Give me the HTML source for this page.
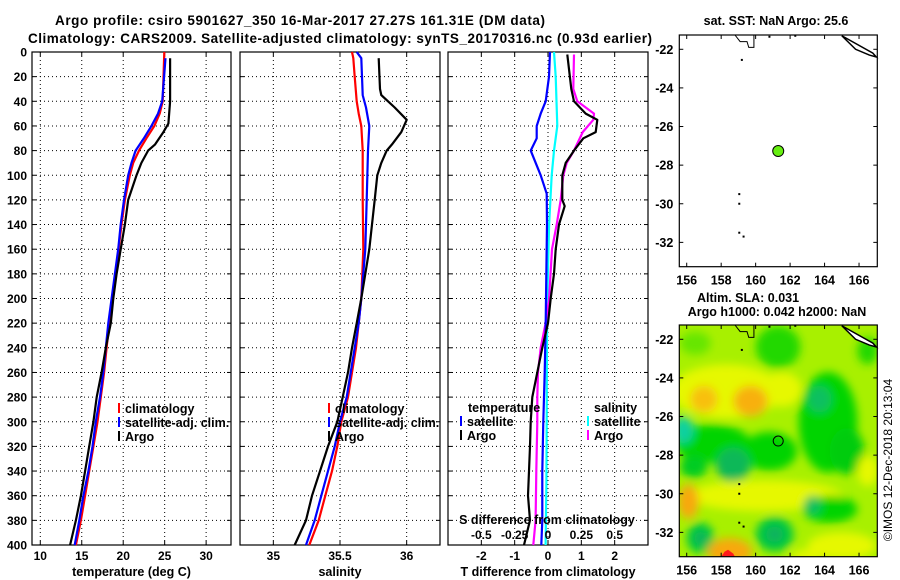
<!DOCTYPE html>
<html><head><meta charset="utf-8">
<style>
html,body{margin:0;padding:0;background:#fff;}
svg{display:block;font-family:"Liberation Sans",sans-serif;font-weight:bold;}
</style></head>
<body>
<svg id="fig" width="900" height="580" viewBox="0 0 900 580" xmlns="http://www.w3.org/2000/svg">
<defs>
<filter id="blur" x="-50%" y="-50%" width="200%" height="200%"><feGaussianBlur stdDeviation="4.5"/></filter>
<clipPath id="mapclip"><rect x="679.3" y="325" width="198" height="231.7"/></clipPath>
</defs>
<text x="300" y="25" font-size="13.5" text-anchor="middle" textLength="490">Argo profile: csiro 5901627_350 16-Mar-2017 27.27S 161.31E (DM data)</text>
<text x="340" y="43" font-size="13.5" text-anchor="middle" textLength="624">Climatology: CARS2009. Satellite-adjusted climatology: synTS_20170316.nc (0.93d earlier)</text>
<g id="plots"></g>
</svg>
<script>
// ---------- data ----------
const depthTicks = [0,20,40,60,80,100,120,140,160,180,200,220,240,260,280,300,320,340,360,380,400];
const tempTicks = [10,15,20,25,30];
const salTicks = [35,35.5,36];
const salTickLabels = ["35","35.5","36"];
const dTTicks = [-2,-1,0,1,2];
const dSTicks = [-0.5,-0.25,0,0.25,0.5];
const dSTickLabels = ["-0.5","-0.25","0","0.25","0.5"];

const tClimDepth = [0,40,50,60,70,80,90,100,120,140,160,180,200,220,240,260,280,300,320,340,360,380,400];
const tClim = [24.96,24.76,24.4,23.75,22.8,21.9,21.2,20.8,20.2,19.8,19.45,19.1,18.7,18.33,18.0,17.7,17.3,16.9,16.4,15.9,15.4,14.9,14.3];
const tSatDepth = [5,40,50,60,70,80,90,100,120,140,160,180,200,220,240,260,280,300,320,340,360,380,400];
const tSat = [25.1,24.7,24.2,23.4,22.5,21.5,21.0,20.6,20.1,19.7,19.4,19.0,18.6,18.2,17.9,17.6,17.2,16.7,16.3,15.8,15.2,14.7,14.15];
const tArgoDepth = [5,40,58,65,75,80,90,100,120,140,160,180,200,220,240,260,280,300,320,340,360,380,400];
const tArgo = [25.65,25.65,25.45,24.85,23.85,23.0,22.2,21.6,20.6,20.2,19.7,19.2,18.8,18.5,17.9,17.4,16.8,16.4,15.9,15.4,14.9,14.3,13.6];

const sClimDepth = [0,5,20,40,50,60,80,120,160,200,220,240,260,280,300,320,340,360,380,400];
const sClim = [35.59,35.60,35.61,35.625,35.64,35.66,35.67,35.67,35.675,35.66,35.64,35.62,35.59,35.56,35.51,35.48,35.44,35.39,35.34,35.27];
const sSatDepth = [0,5,20,35,45,60,80,120,160,200,220,240,260,280,300,320,340,360,380,400];
const sSat = [35.625,35.66,35.665,35.67,35.695,35.72,35.71,35.7,35.69,35.66,35.64,35.61,35.58,35.55,35.5,35.46,35.41,35.36,35.31,35.245];
const sArgoDepth = [5,30,35,45,55,65,75,80,90,100,120,140,160,180,200,220,240,260,280,300,320,340,360,380,400];
const sArgo = [35.79,35.80,35.81,35.91,36.0,35.96,35.89,35.85,35.81,35.78,35.76,35.74,35.72,35.69,35.66,35.625,35.59,35.56,35.52,35.48,35.41,35.35,35.29,35.245,35.16];

const dTSatDepth = [0,20,40,50,60,70,80,90,100,115,140,200,220,260,300,340,380,400];
const dTSat = [0.06,0.03,-0.07,-0.22,-0.34,-0.34,-0.52,-0.37,-0.22,-0.04,-0.03,-0.06,-0.07,-0.1,-0.14,-0.17,-0.17,-0.2];
const dTArgoDepth = [2,30,40,50,55,65,70,80,90,100,120,125,140,160,180,200,220,240,260,280,300,320,340,360,380,400];
const dTArgo = [0.58,0.7,0.78,1.13,1.48,1.43,1.06,0.78,0.53,0.43,0.43,0.5,0.33,0.23,0.18,0.08,0,-0.17,-0.32,-0.47,-0.52,-0.54,-0.57,-0.6,-0.54,-0.72];
const dSSatDepth = [0,20,60,80,100,140,200,240,300,350,400];
const dSSat = [0.045,0.058,0.07,0.045,0.028,0.008,-0.005,-0.008,-0.01,-0.012,-0.018];
const dSArgoDepth = [2,30,40,50,55,65,80,90,100,120,140,160,200,220,240,260,280,300,340,380,400];
const dSArgo = [0.195,0.19,0.22,0.345,0.34,0.26,0.195,0.14,0.115,0.095,0.065,0.03,0.008,-0.018,-0.055,-0.075,-0.08,-0.08,-0.088,-0.093,-0.11];

const lonTicks = [156,158,160,162,164,166];
const latTicks = [-22,-24,-26,-28,-30,-32];
const argoLon = [161.31];
const argoLat = [-27.27];

// ---------- helpers ----------
const NS = "http://www.w3.org/2000/svg";
const root = document.getElementById('plots');
function mk(tag, attrs, parent){
  const e = document.createElementNS(NS, tag);
  for (const k in attrs) e.setAttribute(k, attrs[k]);
  (parent||root).appendChild(e);
  return e;
}
const Y0 = 52, Y1 = 545;
function yDepth(d){ return Y0 + d/400*(Y1-Y0); }
function linX(x0,x1,v0,v1){ return v => x0 + (v-v0)/(v1-v0)*(x1-x0); }

function panel(name, x0, x1, xfn, ticks, labels, xlabel, showY){
  const g = mk('g', {});
  
  
  depthTicks.forEach((d,i)=>{
    if (i===0||i===depthTicks.length-1) return;
    const l = mk('line',{x1:x0,x2:x1,y1:yDepth(d),y2:yDepth(d),stroke:'#000','stroke-width':1,'stroke-dasharray':'1,3'},g);
    
    
  });
  ticks.forEach(t=>{
    const x = xfn(t);
    const l = mk('line',{x1:x,x2:x,y1:Y0,y2:Y1,stroke:'#000','stroke-width':1,'stroke-dasharray':'1,3'},g);
    
    
    mk('line',{x1:x,x2:x,y1:Y0,y2:Y0+4,stroke:'#000'},g);
    mk('line',{x1:x,x2:x,y1:Y1,y2:Y1-4,stroke:'#000'},g);
  });
  const fr = mk('rect',{x:x0,y:Y0,width:x1-x0,height:Y1-Y0,fill:'none',stroke:'#000','stroke-width':1.2},g);
  
  
  ticks.forEach((t,i)=>{
    const tx = mk('text',{x:xfn(t),y:560,'font-size':12,'text-anchor':'middle'},g);
    tx.textContent = labels[i];
    
    
  });
  const xl = mk('text',{x:(x0+x1)/2,y:576,'font-size':12.5,'text-anchor':'middle'},g);
  xl.textContent = xlabel;
  
  
  if (showY){
    depthTicks.forEach(d=>{
      const tx = mk('text',{x:27,y:yDepth(d)+4.5,'font-size':12,'text-anchor':'end'},g);
      tx.textContent = d;
      
      
    });
  }
  depthTicks.forEach(d=>{
    mk('line',{x1:x0,x2:x0+4,y1:yDepth(d),y2:yDepth(d),stroke:'#000'},g);
    mk('line',{x1:x1,x2:x1-4,y1:yDepth(d),y2:yDepth(d),stroke:'#000'},g);
  });
  return g;
}
function series(g, name, depths, vals, xfn, color){
  const pts = depths.map((d,i)=> xfn(vals[i]).toFixed(1)+','+yDepth(d).toFixed(1)).join(' ');
  const p = mk('polyline',{points:pts,fill:'none',stroke:color,'stroke-width':2.2,'stroke-linejoin':'round'},g);
  
  
}
function legendEntry(g, name, x, y, color, label){
  const e = mk('g',{},g);
  
  
  mk('line',{x1:x,x2:x,y1:y-10,y2:y,stroke:color,'stroke-width':2},e);
  const t = mk('text',{x:x+6,y:y,'font-size':12.5},e);
  t.textContent = label;
}

// ---------- temperature panel ----------
const xT = linX(32,231,9,33);
const g1 = panel('temperature-panel',32,231,xT,tempTicks,tempTicks.map(String),'temperature (deg C)',true);
series(g1,'temp-climatology-line',tClimDepth,tClim,xT,'#ff0000');
series(g1,'temp-satellite-line',tSatDepth,tSat,xT,'#0000ff');
series(g1,'temp-argo-line',tArgoDepth,tArgo,xT,'#000000');
legendEntry(g1,'legend-climatology',119,413,'#ff0000','climatology');
legendEntry(g1,'legend-satellite-adj',119,427,'#0000ff','satellite-adj. clim.');
legendEntry(g1,'legend-argo',119,441,'#000000','Argo');

// ---------- salinity panel ----------
const xS = linX(240,440,34.75,36.25);
const g2 = panel('salinity-panel',240,440,xS,salTicks,salTickLabels,'salinity',false);
series(g2,'sal-climatology-line',sClimDepth,sClim,xS,'#ff0000');
series(g2,'sal-satellite-line',sSatDepth,sSat,xS,'#0000ff');
series(g2,'sal-argo-line',sArgoDepth,sArgo,xS,'#000000');
legendEntry(g2,'legend-climatology',329,413,'#ff0000','climatology');
legendEntry(g2,'legend-satellite-adj',329,427,'#0000ff','satellite-adj. clim.');
legendEntry(g2,'legend-argo',329,441,'#000000','Argo');

// ---------- difference panel ----------
const xD = linX(448,648,-3,3);
const xDS = linX(448,648,-0.75,0.75);
const g3 = panel('difference-panel',448,648,xD,dTTicks,dTTicks.map(String),'T difference from climatology',false);
series(g3,'dS-satellite-line',dSSatDepth,dSSat,xDS,'#00ffff');
series(g3,'dS-argo-line',dSArgoDepth,dSArgo,xDS,'#ff00ff');
series(g3,'dT-satellite-line',dTSatDepth,dTSat,xD,'#0000ff');
series(g3,'dT-argo-line',dTArgoDepth,dTArgo,xD,'#000000');
{
  const t = mk('text',{x:468,y:412,'font-size':12.5},g3); t.textContent='temperature';
   
  const s = mk('text',{x:594,y:412,'font-size':12.5},g3); s.textContent='salinity';
   
}
legendEntry(g3,'legend-dT-satellite',461,426,'#0000ff','satellite');
legendEntry(g3,'legend-dT-argo',461,440,'#000000','Argo');
legendEntry(g3,'legend-dS-satellite',588,426,'#00ffff','satellite');
legendEntry(g3,'legend-dS-argo',588,440,'#ff00ff','Argo');
{
  const t = mk('text',{x:547,y:524,'font-size':12.5,'text-anchor':'middle'},g3); t.textContent='S difference from climatology';
   
  dSTicks.forEach((v,i)=>{
    const tx = mk('text',{x:xDS(v),y:539,'font-size':12,'text-anchor':'middle'},g3);
    tx.textContent = dSTickLabels[i];
    
    
  });
}

// ---------- maps ----------
const MX0=679.3, MX1=877.3;
const xLon = linX(MX0,MX1,155.57,167.06);
function mapAxes(g, top, bottom){
  const yLat = linX(top,bottom,-21.26,-33.26);
  lonTicks.forEach(l=>{
    mk('line',{x1:xLon(l),x2:xLon(l),y1:top,y2:top+4,stroke:'#000'},g);
    mk('line',{x1:xLon(l),x2:xLon(l),y1:bottom,y2:bottom-4,stroke:'#000'},g);
    const t = mk('text',{x:xLon(l),y:bottom+18,'font-size':12.5,'text-anchor':'middle'},g);
    t.textContent = l;
    
    
  });
  latTicks.forEach(l=>{
    mk('line',{x1:MX0,x2:MX0+4,y1:yLat(l),y2:yLat(l),stroke:'#000'},g);
    mk('line',{x1:MX1,x2:MX1-4,y1:yLat(l),y2:yLat(l),stroke:'#000'},g);
    const t = mk('text',{x:MX0-6,y:yLat(l)+4.5,'font-size':12.5,'text-anchor':'end'},g);
    t.textContent = l;
    
    
  });
  const r = mk('rect',{x:MX0,y:top,width:MX1-MX0,height:bottom-top,fill:'none',stroke:'#000','stroke-width':1.2},g);
  
  
  return yLat;
}
function coast(g, yLat){
  const p1 = mk('path',{d:`M${xLon(165)} ${yLat(-21.3)} L${xLon(166.8)} ${yLat(-22.2)} L${xLon(167)} ${yLat(-22.4)} L${xLon(166.6)} ${yLat(-22.3)} L${xLon(165.8)} ${yLat(-22)} Z`,fill:'#fff',stroke:'#000','stroke-width':1.5},g);
   
  const p2 = mk('path',{d:`M${xLon(158.8)} ${yLat(-21.26)} L${xLon(159.1)} ${yLat(-21.6)} L${xLon(159.5)} ${yLat(-21.6)} L${xLon(159.6)} ${yLat(-21.9)} L${xLon(159.9)} ${yLat(-21.9)} L${xLon(159.9)} ${yLat(-21.26)}`,fill:'none',stroke:'#000','stroke-width':1},g);
   
  [[159.2,-22.55],[159.05,-29.5],[159.05,-30.0],[159.05,-31.5],[159.3,-31.7],[162.3,-21.3],[160.8,-21.35]].forEach(p=>{
    mk('rect',{x:xLon(p[0])-1,y:yLat(p[1])-1,width:2,height:2,fill:'#000'},g);
  });
}
// SST map
const gm1 = mk('g',{});


const yLat1 = mapAxes(gm1,35,266.7);
coast(gm1,yLat1);
{
  const c = mk('circle',{cx:xLon(argoLon[0]),cy:yLat1(argoLat[0]),r:5.5,fill:'#66ee11',stroke:'#000','stroke-width':1},gm1);
   
  const t = mk('text',{x:776,y:25,'font-size':12.5,'text-anchor':'middle'},gm1); t.textContent='sat. SST: NaN Argo: 25.6';
   
}
// SLA map
const gm2 = mk('g',{});


const yLat2 = linX(325,556.7,-21.26,-33.26);
const field = mk('g',{'clip-path':'url(#mapclip)'},gm2);


mk('rect',{x:MX0,y:325,width:MX1-MX0,height:231.7,fill:'#a8f000'},field);
const fb = mk('g',{filter:'url(#blur)'},field);
const blobs = [
 [158.3,-24.7,3.2,1.4,'#e6f800'],[161.5,-24.6,1.2,0.9,'#e6f800'],[157,-25.1,0.8,0.7,'#f8c010'],[159.7,-25.2,1.0,0.8,'#f8b010'],
 [156.5,-22.2,0.9,0.6,'#66e600'],[161.3,-22.4,1.3,1.1,'#22d800'],[166.5,-22.6,0.6,0.7,'#22d800'],
 [164.2,-26.3,1.7,2.6,'#00d400'],[163.7,-25.1,0.7,0.7,'#10c060'],[165.3,-27.8,1.0,1.2,'#00cc10'],
 [157.5,-27.4,2.2,1.0,'#00d400'],[160.8,-27.8,1.6,1.0,'#00d400'],[158.7,-28.5,1.0,0.9,'#10b858'],
 [155.8,-26.7,0.6,0.7,'#10d0a0'],[156.4,-28.6,0.8,0.6,'#00cc20'],
 [160.5,-30.1,4.5,0.8,'#e6f800'],[156.1,-30.4,0.6,0.9,'#f8a810'],[166.5,-28.8,0.6,0.8,'#e6f800'],
 [164.3,-30.8,1.6,0.7,'#00d400'],[163.3,-30.6,0.5,0.5,'#10c060'],
 [161.1,-32.1,1.1,0.9,'#00c840'],[161.1,-32.1,0.5,0.4,'#10b060'],[156.8,-32.3,0.8,0.8,'#00c840'],[156.8,-32.3,0.35,0.35,'#10b060'],
 [158.5,-33.0,1.3,0.7,'#f8a810'],[165,-32.7,2.0,0.7,'#e6f800'],[163,-33.2,1.0,0.3,'#e6f800']
];
blobs.forEach(b=>{
  const e = mk('ellipse',{cx:xLon(b[0]),cy:yLat2(b[1]),rx:(xLon(b[0]+b[2])-xLon(b[0])),ry:(yLat2(b[1]-b[3])-yLat2(b[1])),fill:b[4]},fb);
  
  
});
mk('path',{d:`M${xLon(158.0)} ${yLat2(-33.26)} L${xLon(158.2)} ${yLat2(-33)} L${xLon(158.4)} ${yLat2(-32.9)} L${xLon(158.7)} ${yLat2(-33.1)} L${xLon(158.8)} ${yLat2(-33.26)} Z`,fill:'#ff1a1a'},field);
mapAxes(gm2,325,556.7);
coast(gm2,yLat2);
{
  const c = mk('circle',{cx:xLon(argoLon[0]),cy:yLat2(argoLat[0]),r:5,fill:'none',stroke:'#000','stroke-width':1},gm2);
   
  const t1 = mk('text',{x:748,y:302,'font-size':12.5,'text-anchor':'middle'},gm2); t1.textContent='Altim. SLA: 0.031';
   
  const t2 = mk('text',{x:777,y:316,'font-size':12.5,'text-anchor':'middle'},gm2); t2.textContent='Argo h1000: 0.042 h2000: NaN';
   
  const t3 = mk('text',{x:0,y:0,'font-size':12,'font-weight':'normal','text-anchor':'middle',transform:'translate(892,460) rotate(-90)'},gm2);
  t3.textContent='©IMOS 12-Dec-2018 20:13:04';
   
}
</script>
</body></html>
